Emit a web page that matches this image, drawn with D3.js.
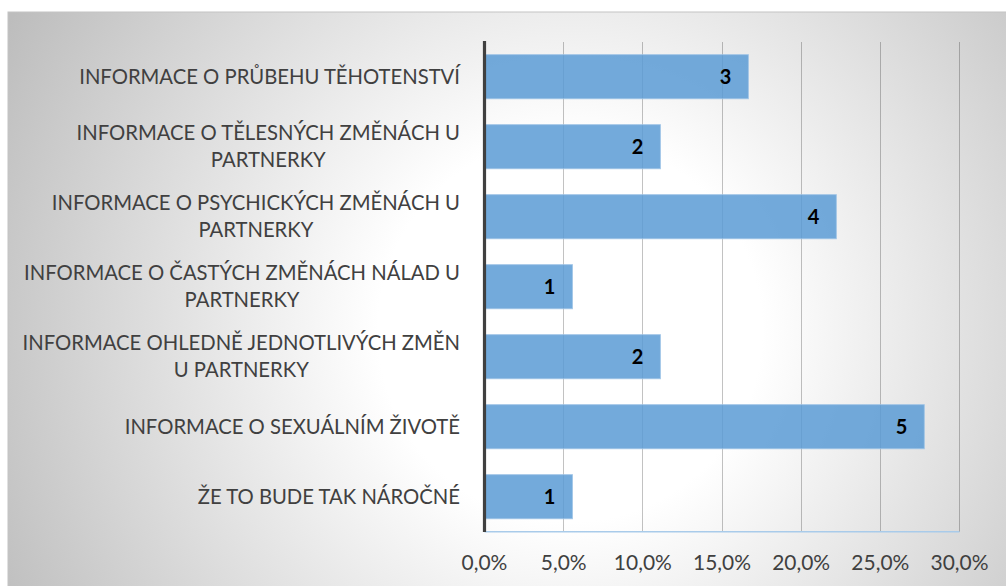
<!DOCTYPE html>
<html><head><meta charset="utf-8">
<script src="https://cdn.jsdelivr.net/npm/d3@7"></script>
<style>html,body{margin:0;padding:0;background:#fff;overflow:hidden}</style>
</head><body>
<svg id="chart" width="1006" height="586"></svg>
<script>
const categories = [
  ["INFORMACE O PRŮBEHU TĚHOTENSTVÍ"],
  ["INFORMACE O TĚLESNÝCH ZMĚNÁCH U", "PARTNERKY"],
  ["INFORMACE O PSYCHICKÝCH ZMĚNÁCH U", "PARTNERKY"],
  ["INFORMACE O ČASTÝCH ZMĚNÁCH NÁLAD U", "PARTNERKY"],
  ["INFORMACE OHLEDNĚ JEDNOTLIVÝCH ZMĚN", "U PARTNERKY"],
  ["INFORMACE O SEXUÁLNÍM ŽIVOTĚ"],
  ["ŽE TO BUDE TAK NÁROČNÉ"]
];
const counts = [3, 2, 4, 1, 2, 5, 1];
const xTicks = [0, 0.05, 0.10, 0.15, 0.20, 0.25, 0.30];

const total = d3.sum(counts);
const shares = counts.map(c => c / total);

const svg = d3.select("#chart");
const FONT = "Lato, 'Open Sans', sans-serif";

// background panel with radial gradient
const defs = svg.append("defs");
const grad = defs.append("radialGradient").attr("id", "bg")
  .attr("gradientUnits", "userSpaceOnUse")
  .attr("cx", 570).attr("cy", 330).attr("r", 640);
grad.append("stop").attr("offset", 0).attr("stop-color", "#ffffff");
grad.append("stop").attr("offset", 0.3).attr("stop-color", "#ffffff");
grad.append("stop").attr("offset", 1).attr("stop-color", "#bdbdbd");

svg.append("rect").attr("x", 8).attr("y", 12).attr("width", 1010).attr("height", 590)
  .attr("fill", "url(#bg)").attr("stroke", "#c4c4c4").attr("stroke-width", 1);

const x = d3.scaleLinear().domain([0, 0.30]).range([484.5, 959.5]);
const y = d3.scaleBand().domain(d3.range(categories.length)).range([41.7, 531.7])
  .paddingInner(0.37).paddingOuter(0.185);

// gridlines
svg.append("g").selectAll("line").data(xTicks.slice(1)).join("line")
  .attr("x1", d => x(d)).attr("x2", d => x(d))
  .attr("y1", 41.7).attr("y2", 531.7)
  .attr("stroke", "rgba(0,0,0,0.24)").attr("stroke-width", 1)
  .attr("shape-rendering", "crispEdges");

// bottom axis line
svg.append("line").attr("x1", x(0)).attr("x2", x(0.30)).attr("y1", 531.7).attr("y2", 531.7)
  .attr("stroke", "#a9cbea").attr("stroke-width", 1.5);

// bars
svg.append("g").selectAll("rect").data(shares).join("rect")
  .attr("x", x(0)).attr("y", (d, i) => y(i))
  .attr("width", d => x(d) - x(0)).attr("height", y.bandwidth())
  .attr("fill", "rgba(91,155,213,0.85)")
  .attr("stroke", "rgba(157,195,230,0.8)").attr("stroke-width", 1);

// vertical axis line
svg.append("line").attr("x1", x(0)).attr("x2", x(0)).attr("y1", 41).attr("y2", 532)
  .attr("stroke", "#404040").attr("stroke-width", 3.2);

// data labels
svg.append("g").selectAll("text").data(counts).join("text")
  .attr("x", (d, i) => x(shares[i]) - 17)
  .attr("y", (d, i) => y(i) + y.bandwidth() / 2)
  .attr("dy", "0.35em")
  .attr("text-anchor", "end")
  .attr("font-family", FONT).attr("font-weight", "bold").attr("font-size", 20)
  .attr("fill", "#000")
  .text(d => d);

// x tick labels
const xt = svg.append("g").selectAll("text").data(xTicks).join("text")
  .attr("x", d => x(d)).attr("y", 563).attr("dy", "0.35em")
  .attr("text-anchor", "middle")
  .attr("font-family", FONT).attr("font-size", 20).attr("fill", "#404040")
  .text(d => d3.format(".1f")(d * 100).replace(".", ",") + "%");

{
  const node = xt.filter((d, i) => i === xTicks.length - 1).node();
  const w = node.getComputedTextLength();
  xt.attr("font-size", 20 * 58 / w);
}

// category labels
const lineH = 27;
const labelGroups = svg.append("g").selectAll("g").data(categories).join("g");
labelGroups.each(function(lines, i) {
  const g = d3.select(this);
  const cy = y(i) + y.bandwidth() / 2;
  lines.forEach((t, j) => {
    g.append("text")
      .attr("y", cy + (j - (lines.length - 1) / 2) * lineH)
      .attr("dy", "0.35em")
      .attr("text-anchor", "middle")
      .attr("font-family", FONT).attr("font-size", 20).attr("fill", "#404040")
      .text(t);
  });
});
{
  const first = labelGroups.filter((d, i) => i === 0).select("text").node();
  const w = first.getComputedTextLength();
  labelGroups.selectAll("text").attr("font-size", 20 * 381 / w);
}
const rightEdge = 460;
labelGroups.each(function() {
  const texts = d3.select(this).selectAll("text");
  const maxW = d3.max(texts.nodes(), n => n.getComputedTextLength());
  texts.attr("x", rightEdge - maxW / 2);
});
</script>
</body></html>
